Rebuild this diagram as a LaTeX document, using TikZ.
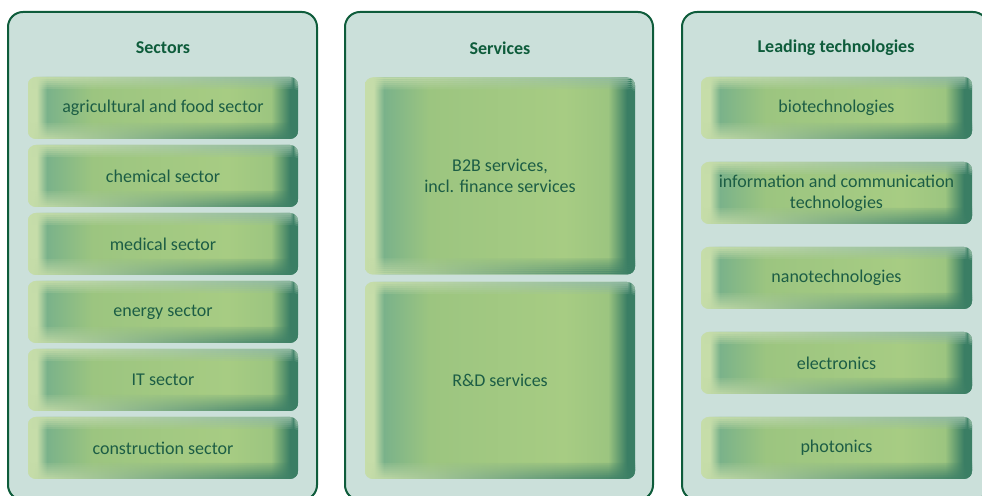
\documentclass[tikz,border=0pt]{standalone}
\usepackage{fontspec}
\setmainfont{Carlito}
\usepackage{xcolor}
\usepackage{tikz}
\usetikzlibrary{positioning}

\definecolor{frame}{HTML}{0E5C3B}
\definecolor{panelbg}{HTML}{CBE0DA}
\definecolor{itpale}{HTML}{C6DDA9}
\definecolor{itshadow}{HTML}{7AB28A}
\definecolor{itmid}{HTML}{9CC580}
\definecolor{itlight}{HTML}{A7CC83}
\definecolor{itdark}{HTML}{3A7E64}
\definecolor{ittop}{HTML}{8DB7A0}
\definecolor{txt}{HTML}{1C5D45}

\pgfdeclarehorizontalshading{itemshade}{100bp}{color(0bp)=(itpale); color(25bp)=(itpale); color(26.6bp)=(itpale); color(28.5bp)=(itshadow); color(37bp)=(itmid); color(62bp)=(itlight); color(70bp)=(itmid); color(73.5bp)=(itdark); color(75bp)=(itdark); color(100bp)=(itdark)}

\begin{document}
\begin{tikzpicture}[x=0.5pt,y=0.5pt,
    panel/.style={draw=frame,line width=1pt,fill=panelbg,rounded corners=7.5pt},
    title/.style={text=frame,font=\bfseries\fontsize{9}{10.5}\selectfont},
    item/.style={rounded corners=4pt,shading=itemshade,text=txt,align=center,
        inner sep=0pt,minimum width=135pt,minimum height=31pt,
        font=\fontsize{9}{10.5}\selectfont,
        path picture={
            % pale rim on top, fading inwards
            \foreach \k [evaluate=\k as \op using 0.95-0.15*\k] in {0,...,5}
                \shade[left color=itpale,right color=ittop,opacity=\op]
                    ([yshift=-\k pt]path picture bounding box.north west) rectangle
                    ([yshift={-(\k+1)*1pt}]path picture bounding box.north east);
            % rim at the bottom, pale to dark
            \foreach \k [evaluate=\k as \op using 0.95-0.11*\k] in {0,...,7}
                \shade[left color=itpale,right color=itdark,opacity=\op]
                    ([yshift=\k pt]path picture bounding box.south west) rectangle
                    ([yshift={(\k+1)*1pt}]path picture bounding box.south east);
        }},
    tall/.style={item,minimum height=98.5pt}]

    \useasboundingbox (0,0) rectangle (982,496);

    % The panels
    \draw[panel] (8,-4) rectangle (317,484);
    \draw[panel] (345,-4) rectangle (653,484);
    \draw[panel] (682,-4) rectangle (988,484);

    \node [title] at (163,448) (sec) {Sectors};
    \node [title] at (500,448) (serv) {Services};
    \node [title] at (836,448) (tech) {Leading technologies};

    % Sectors
    \node [item] at (163,388) (agri) {agricultural and food sector};
    \node [item] at (163,320) (chem) {chemical sector};
    \node [item] at (163,252) (med) {medical sector};
    \node [item] at (163,184) (energy) {energy sector};
    \node [item] at (163,116) (it) {IT sector};
    \node [item] at (163,48) (constr) {construction sector};

    % Services
    \node [tall] at (500,320) (btob) {B2B services,\\incl. finance services};
    \node [tall] at (500,115.5) (rnd) {R\&D services};

    % Leading technologies
    \node [item,minimum width=135.5pt] at (836.5,388) (bio) {biotechnologies};
    \node [item,minimum width=135.5pt] at (836.5,303) (ict) {information and communication\\technologies};
    \node [item,minimum width=135.5pt] at (836.5,218) (nano) {nanotechnologies};
    \node [item,minimum width=135.5pt] at (836.5,133) (elec) {electronics};
    \node [item,minimum width=135.5pt] at (836.5,48) (phot) {photonics};
\end{tikzpicture}
\end{document}
